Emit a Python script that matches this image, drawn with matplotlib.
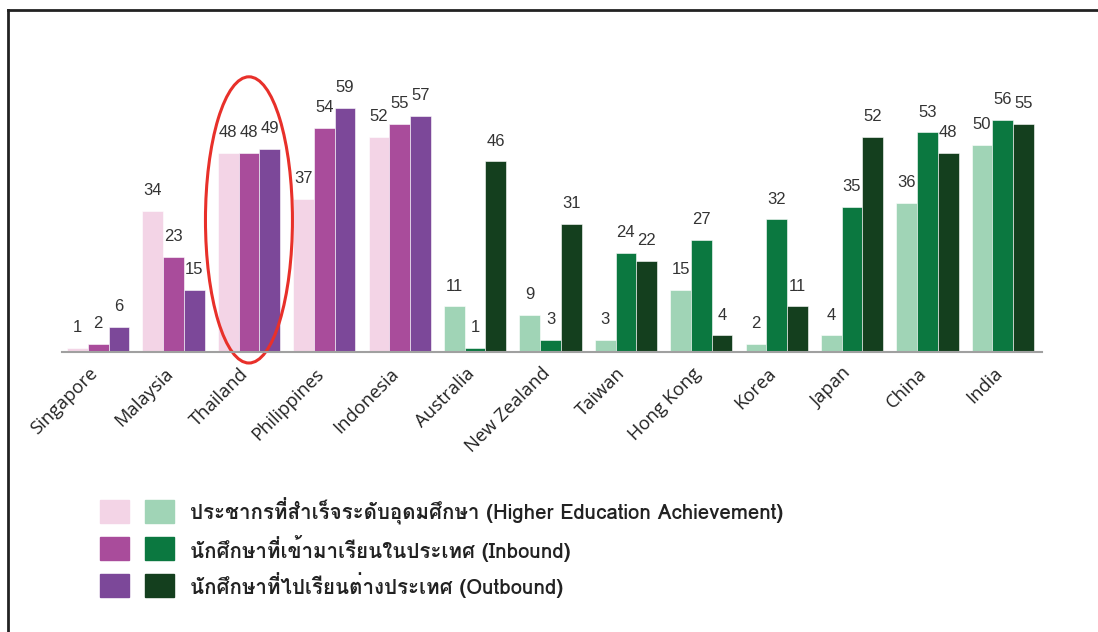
import matplotlib
matplotlib.use('Agg')
import numpy as np
import matplotlib.pyplot as plt
from matplotlib import font_manager
from matplotlib.ft2font import FT2Font
from matplotlib.patches import Ellipse, Rectangle
from matplotlib.lines import Line2D
from matplotlib.transforms import ScaledTranslation

countries = ['Singapore', 'Malaysia', 'Thailand', 'Philippines', 'Indonesia',
             'Australia', 'New Zealand', 'Taiwan', 'Hong Kong', 'Korea',
             'Japan', 'China', 'India']
higher_edu = [1, 34, 48, 37, 52, 11, 9, 3, 15, 2, 4, 36, 50]
inbound = [2, 23, 48, 54, 55, 1, 3, 24, 27, 32, 35, 53, 56]
outbound = [6, 15, 49, 59, 57, 46, 31, 22, 4, 11, 52, 48, 55]
n_asean = 5  # first five use the purple palette

legend_labels = ['ประชากรที่สำเร็จระดับอุดมศึกษา (Higher Education Achievement)',
                 'นักศึกษาที่เข้ามาเรียนในประเทศ (Inbound)',
                 'นักศึกษาที่ไปเรียนต่างประเทศ (Outbound)']

purples = ['#f3d4e6', '#a94c9b', '#7c4899']
greens = ['#a0d4b6', '#0b7840', '#143f1e']


def find_thai_font():
    for f in font_manager.fontManager.ttflist:
        try:
            cmap = FT2Font(f.fname).get_charmap()
        except Exception:
            continue
        if 0x0E01 in cmap and 0x0E28 in cmap:
            return f.name
    return 'DejaVu Sans'


thai_font = find_thai_font()

fig = plt.figure(figsize=(10.98, 6.32), dpi=100)
W, H = 1098, 632
ax = fig.add_axes([62 / W, (H - 352) / H, (1042 - 62) / W, 290 / H])

x = np.arange(len(countries))
bw = 0.275
series = [higher_edu, inbound, outbound]
for k, vals in enumerate(series):
    cols = [purples[k] if i < n_asean else greens[k] for i in range(len(countries))]
    pos = x + (k - 1) * bw
    ax.bar(pos, vals, width=bw, color=cols, edgecolor='white', linewidth=0.4)
    for px, v in zip(pos, vals):
        ax.text(px, v + 3.1, str(v), ha='center', va='bottom', fontsize=12,
                color='#333333', family='Liberation Sans', clip_on=False)

ax.set_xlim(-0.48, 12.52)
ax.set_ylim(0, 70)
for s in ['top', 'right', 'left']:
    ax.spines[s].set_visible(False)
ax.spines['bottom'].set_color('#a0a0a0')
ax.spines['bottom'].set_linewidth(1.5)
ax.set_yticks([])
ax.set_xticks(x)
ax.set_xticklabels(countries, rotation=45, ha='right', rotation_mode='anchor',
                   fontsize=13.2, family='Open Sans', color='#222222')
ax.tick_params(axis='x', length=0, pad=9)
shift = ScaledTranslation(-7 / 72, 0, fig.dpi_scale_trans)
for lbl in ax.get_xticklabels():
    lbl.set_transform(lbl.get_transform() + shift)

# red ellipse around Thailand
ell = Ellipse((2, (352 - 220) / 4.14), width=87 / 75.4, height=286 / 4.14,
              fill=False, edgecolor='#e8302a', linewidth=2.2, clip_on=False)
ax.add_patch(ell)

# legend drawn by hand
rows_y = [511, 548, 585]
for k, yc in enumerate(rows_y):
    for x0, col in [(100, purples[k]), (145, greens[k])]:
        fig.patches.append(Rectangle((x0 / W, (H - yc - 11.5) / H), 29 / W, 23 / H,
                                     transform=fig.transFigure, color=col))
    fig.text(190 / W, (H - yc) / H, legend_labels[k], va='center', ha='left',
             fontsize=14.8, fontweight='bold', color='#222222',
             family=[thai_font, 'DejaVu Sans'])

# frame lines (left and top)
fig.add_artist(Line2D([7.5 / W, 7.5 / W], [0, (H - 10) / H], color='#222222', lw=2,
                      transform=fig.transFigure))
fig.add_artist(Line2D([7.5 / W, 1], [(H - 10) / H, (H - 10) / H], color='#222222', lw=2,
                      transform=fig.transFigure))

fig.savefig('out.png', dpi=100)
